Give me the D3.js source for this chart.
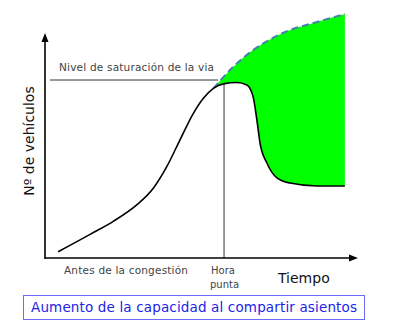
<!DOCTYPE html>
<html>
<head>
<meta charset="utf-8">
<script src="https://cdn.jsdelivr.net/npm/d3@7.9.0/dist/d3.min.js"></script>
<style>
  body { margin: 0; background: #fff; }
  svg { display: block; font-family: "DejaVu Sans", sans-serif; }
</style>
</head>
<body>
<svg id="chart" width="403" height="334"></svg>
<script>
// demand curve (time, vehicles) in arbitrary 0-100 units
const demandTime = [4.2, 14.4, 21.8, 29.3, 34.6, 38.9, 43.1, 47.4, 50.6, 53.8, 57, 61.3, 64.5, 66.5, 67.7, 68.7, 70.9, 74.1, 78.3, 86.9, 95.8];
const demandVal  = [2.8, 10.5, 16.3, 23.6, 31, 40.6, 52.4, 64.3, 71, 75.4, 77.4, 78, 76.9, 71.6, 61.3, 51.1, 42.2, 35.6, 33.3, 32, 32];

// capacity with shared seats (dashed)
const capTime = [53.8, 60.1, 66.5, 76, 86.9, 95.8];
const capVal  = [75.4, 84.9, 92.4, 100, 104.9, 108.4];

const saturationLevel = 79.1;
const saturationStart = 1.6;
const saturationEnd = 55.3;
const peakTime = 57.2;
const peakTop = 77.4;

const svg = d3.select('#chart');

// scales
const x = d3.scaleLinear().domain([0, 100]).range([45, 358]);
const y = d3.scaleLinear().domain([0, 100]).range([258, 33]);

const demand = demandTime.map((t, i) => ({ t, v: demandVal[i] }));
const cap = capTime.map((t, i) => ({ t, v: capVal[i] }));

const line = d3.line()
    .x(d => x(d.t))
    .y(d => y(d.v))
    .curve(d3.curveMonotoneX);

// green area: capacity curve forward, then demand curve backwards
const lowerPart = demand.filter(d => d.t >= capTime[0]).reverse();
const areaPath = line(cap) + 'L' + line(lowerPart).slice(1) + 'Z';
svg.append('path')
    .attr('d', areaPath)
    .attr('fill', '#00ff00')
    .attr('stroke', 'none');

// saturation line
svg.append('line')
    .attr('x1', x(saturationStart)).attr('x2', x(saturationEnd))
    .attr('y1', y(saturationLevel)).attr('y2', y(saturationLevel))
    .attr('stroke', '#333').attr('stroke-width', 1);

// peak hour line
svg.append('line')
    .attr('x1', x(peakTime)).attr('x2', x(peakTime))
    .attr('y1', y(peakTop)).attr('y2', y(0))
    .attr('stroke', '#333').attr('stroke-width', 1);

// dashed capacity line
svg.append('path')
    .attr('d', line(cap))
    .attr('fill', 'none')
    .attr('stroke', '#4a7fae')
    .attr('stroke-width', 2)
    .attr('stroke-dasharray', '7,4');

// demand curve
svg.append('path')
    .attr('d', line(demand))
    .attr('fill', 'none')
    .attr('stroke', '#000')
    .attr('stroke-width', 1.6);

// axes with arrows
svg.append('line')
    .attr('x1', x(0)).attr('x2', x(0))
    .attr('y1', y(0) + 1).attr('y2', 40)
    .attr('stroke', '#000').attr('stroke-width', 1.6);
svg.append('path')
    .attr('d', `M${x(0)},33 L${x(0) - 3.5},42 L${x(0) + 3.5},42 Z`)
    .attr('fill', '#000');

svg.append('line')
    .attr('x1', x(0)).attr('x2', 351)
    .attr('y1', y(0)).attr('y2', y(0))
    .attr('stroke', '#000').attr('stroke-width', 1.6);
svg.append('path')
    .attr('d', `M358,${y(0)} L349,${y(0) - 3.5} L349,${y(0) + 3.5} Z`)
    .attr('fill', '#000');

// labels
svg.append('text')
    .attr('x', 59).attr('y', 71)
    .attr('font-size', 10.5).attr('fill', '#444')
    .attr('textLength', 155)
    .text('Nivel de saturación de la via');

svg.append('text')
    .attr('x', 64).attr('y', 274)
    .attr('font-size', 10.5).attr('fill', '#444')
    .attr('textLength', 124)
    .text('Antes de la congestión');

svg.append('text')
    .attr('x', 211).attr('y', 274)
    .attr('font-size', 10).attr('fill', '#444')
    .text('Hora');
svg.append('text')
    .attr('x', 210).attr('y', 288)
    .attr('font-size', 10).attr('fill', '#444')
    .text('punta');

svg.append('text')
    .attr('x', 278).attr('y', 283)
    .attr('font-size', 14).attr('fill', '#111')
    .text('Tiempo');

svg.append('text')
    .attr('transform', 'translate(34,141) rotate(-90)')
    .attr('text-anchor', 'middle')
    .attr('font-size', 14).attr('fill', '#111')
    .text('Nº de vehículos');

// caption box
svg.append('rect')
    .attr('x', 23.5).attr('y', 295.5)
    .attr('width', 341).attr('height', 24)
    .attr('fill', '#fff')
    .attr('stroke', '#6a6aff').attr('stroke-width', 1);
svg.append('text')
    .attr('x', 31).attr('y', 312)
    .attr('font-size', 13.5).attr('fill', '#2323e8')
    .attr('textLength', 326)
    .text('Aumento de la capacidad al compartir asientos');
</script>
</body>
</html>
